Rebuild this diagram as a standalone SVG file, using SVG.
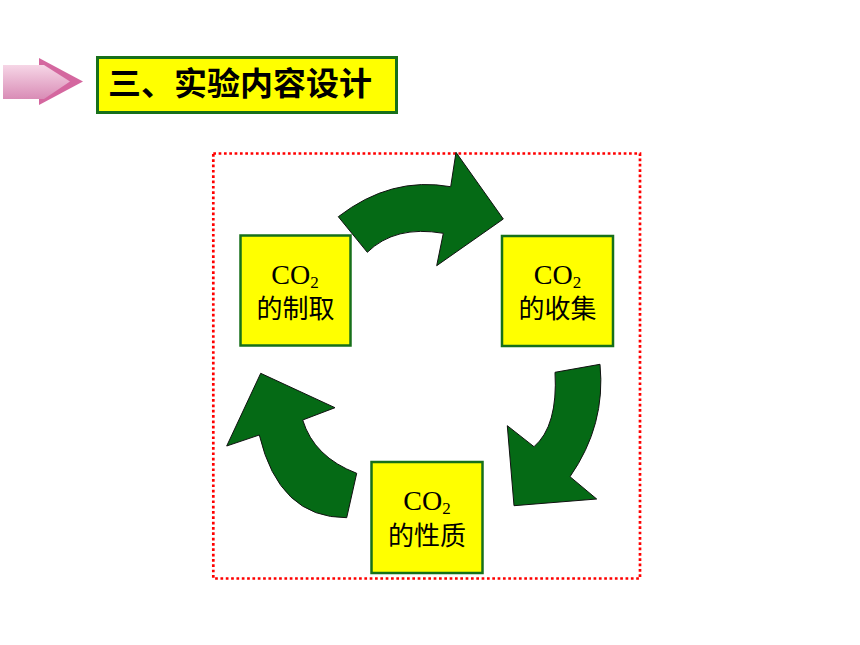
<svg xmlns="http://www.w3.org/2000/svg" width="860" height="645" viewBox="0 0 860 645">
<defs>
<linearGradient id="pinkg" x1="0" y1="0" x2="0" y2="1">
<stop offset="0" stop-color="#f6d6e6"/>
<stop offset="1" stop-color="#d98cb6"/>
</linearGradient>
<style>
.box{fill:#ffff00;stroke:#17701a;stroke-width:2.5}
.garrow{fill:#056a15;stroke:#111;stroke-width:1}
.lat{font-family:"Liberation Serif","Times New Roman",serif;font-size:28px;fill:#000}
.cjk{font-family:"Noto Sans CJK SC","Noto Sans CJK JP",sans-serif;font-size:26px;fill:#000}
.title{font-family:"Noto Sans CJK SC","Noto Sans CJK JP",sans-serif;font-size:32px;font-weight:bold;fill:#000}
</style>
</defs>
<rect width="860" height="645" fill="#ffffff"/>

<g id="pink-arrow">
<polygon points="39,58 83,81.5 39,105" fill="#d4679f"/>
<polygon points="3,65 44,65 70,81.5 44,99 3,99" fill="url(#pinkg)"/>
</g>

<g id="title">
<rect x="97.5" y="57.5" width="299" height="55" fill="#ffff00" stroke="#17701a" stroke-width="3"/>
<text class="title" x="108" y="94.5" textLength="264" lengthAdjust="spacingAndGlyphs">三、实验内容设计</text>
</g>

<rect id="frame" x="213.3" y="153.5" width="426.7" height="425" fill="none" stroke="#ff0000" stroke-width="2.7" stroke-dasharray="2.7 2.63"/>

<g id="connectors">
<path class="garrow" d="M338.3,216.7 Q391,176 450.7,186.7 L456,152.3 L503.3,219 L436.7,265.7 L443.3,233.3 Q395,225 367.3,252.3 Z"/>
<path class="garrow" d="M555,372.3 L600,364.3 Q606,425 570,476.7 L596.7,499 L514,505.7 L507.3,425.7 L534,446.7 Q558,426 555,372.3 Z"/>
<path class="garrow" d="M260.7,373.3 L335,407.7 L302.7,420 Q314,457 356.7,473.3 L346.7,517.7 Q279,518 259.3,435 L226.7,446 Z"/>
</g>

<g id="node-make">
<rect class="box" x="240.5" y="235.5" width="110" height="110"/>
<text class="lat" x="295" y="284" text-anchor="middle">CO<tspan font-size="17" dy="4">2</tspan></text>
<text class="cjk" x="295.5" y="318" text-anchor="middle">的制取</text>
</g>

<g id="node-collect">
<rect class="box" x="502" y="236" width="111" height="110"/>
<text class="lat" x="557.5" y="284" text-anchor="middle">CO<tspan font-size="17" dy="4">2</tspan></text>
<text class="cjk" x="557.5" y="318" text-anchor="middle">的收集</text>
</g>

<g id="node-property">
<rect class="box" x="371.5" y="462" width="111" height="111"/>
<text class="lat" x="427" y="510" text-anchor="middle">CO<tspan font-size="17" dy="4">2</tspan></text>
<text class="cjk" x="427" y="545" text-anchor="middle">的性质</text>
</g>
</svg>
